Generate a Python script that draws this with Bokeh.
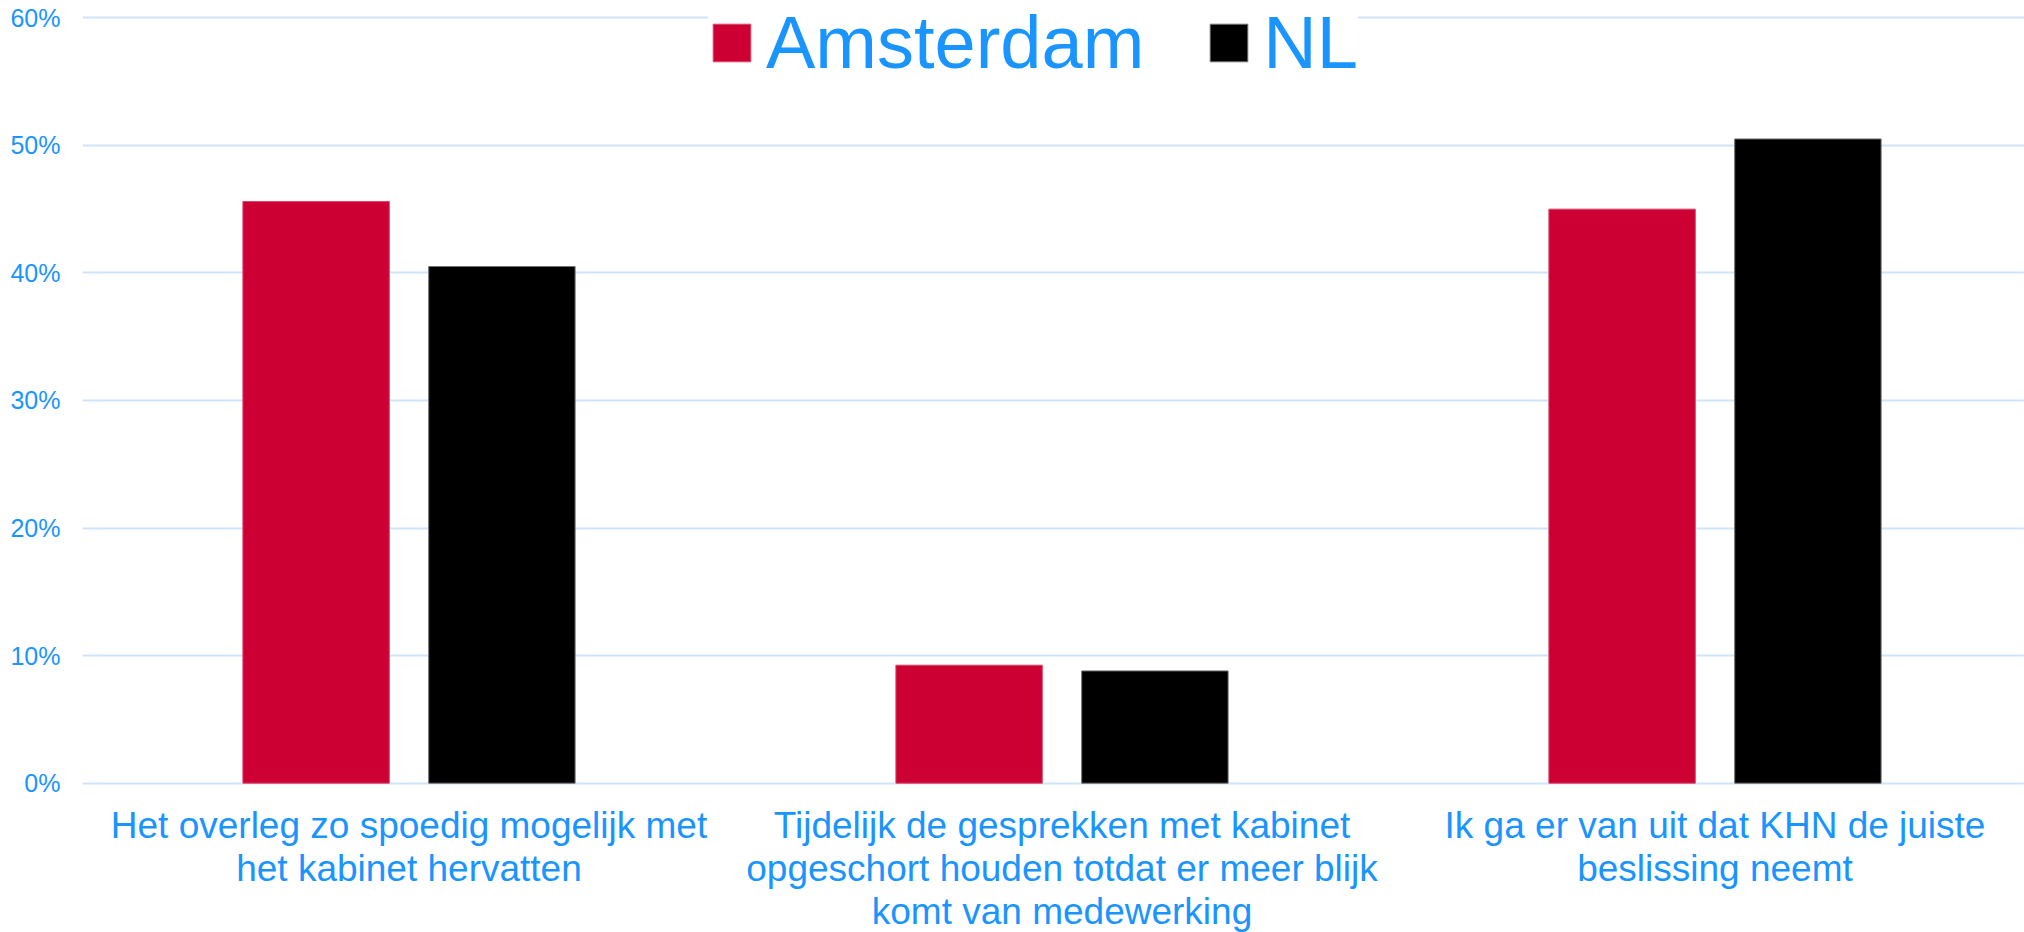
from bokeh.plotting import figure
from bokeh.models import Range1d, FixedTicker, NumeralTickFormatter, Legend, LegendItem, ColumnDataSource
from bokeh.transform import dodge
from bokeh.embed import file_html
from bokeh.resources import INLINE
from bokeh.core.properties import value

# ---- data ----
categories = [
    "Het overleg zo spoedig mogelijk met\nhet kabinet hervatten",
    "Tijdelijk de gesprekken met kabinet\nopgeschort houden totdat er meer blijk\nkomt van medewerking",
    "Ik ga er van uit dat KHN de juiste\nbeslissing neemt",
]
series_names = ["Amsterdam", "NL"]
amsterdam = [0.456, 0.0925, 0.450]
nl = [0.405, 0.088, 0.505]
y_ticks = [0.0, 0.1, 0.2, 0.3, 0.4, 0.5, 0.6]

# ---- styling / layout ----
FONT = "Liberation Sans"
BLUE = "#1A94FF"
GRID = "#CFE4F8"
COLORS = ["#CC0033", "#000000"]
LINES = ["#D94468", "#6E6E6E"]

W, H = 2024, 932
FRAME_LEFT = 82
ZERO_PX = 782.7          # screen y of 0%
PX_PER_UNIT = 1275.7     # pixels for 100%
CAT_PX = 653.0           # pixels per category
x_start = -0.5
x_end = x_start + (W - FRAME_LEFT) / CAT_PX
y_end = ZERO_PX / PX_PER_UNIT
y_start = -(H - ZERO_PX) / PX_PER_UNIT
offset = 92.9 / CAT_PX
bar_w = 146.4 / CAT_PX

src = ColumnDataSource(dict(
    x=list(range(len(categories))),
    cat=categories,
    ams=amsterdam,
    nl=nl,
))

p = figure(width=W, height=H, x_range=Range1d(x_start, x_end), y_range=Range1d(y_start, y_end),
           output_backend="svg", toolbar_location=None, x_axis_location=None,
           min_border_left=FRAME_LEFT, min_border_right=0, min_border_top=0, min_border_bottom=0,
           outline_line_color=None, background_fill_color="white", border_fill_color="white")

ticker = FixedTicker(ticks=y_ticks)
ax = p.yaxis[0]
ax.ticker = ticker
ax.formatter = NumeralTickFormatter(format="0%")
ax.major_label_text_font = FONT
ax.major_label_text_font_size = "25px"
ax.major_label_text_color = BLUE
ax.axis_line_color = None
ax.major_tick_line_color = None
ax.minor_tick_line_color = None
ax.major_tick_out = 0
ax.major_tick_in = 0
ax.major_label_standoff = 22

p.ygrid.ticker = ticker
p.ygrid.grid_line_color = GRID
p.ygrid.grid_line_width = 2
p.xgrid.grid_line_color = None

r1 = p.vbar(x=dodge("x", -offset), top="ams", bottom=0, width=bar_w, source=src,
            fill_color=COLORS[0], line_color=LINES[0], line_width=1)
r2 = p.vbar(x=dodge("x", offset), top="nl", bottom=0, width=bar_w, source=src,
            fill_color=COLORS[1], line_color=LINES[1], line_width=1)

p.text(x="x", y=0, text="cat", source=src, text_align="center", text_baseline="top",
       y_offset=22, text_font=value(FONT), text_font_size="37px", text_color=BLUE,
       text_line_height=1.05)

legend = Legend(items=[LegendItem(label=series_names[0], renderers=[r1]),
                       LegendItem(label=series_names[1], renderers=[r2])],
                orientation="horizontal", location=(626, 847),
                glyph_width=47, glyph_height=47,
                label_text_font=FONT, label_text_font_size="74px", label_text_color=BLUE,
                label_standoff=11, spacing=61, padding=36, margin=0,
                border_line_color=None, background_fill_color="white", background_fill_alpha=1.0)
p.add_layout(legend)

open("out.html", "w").write(file_html(p, INLINE))
